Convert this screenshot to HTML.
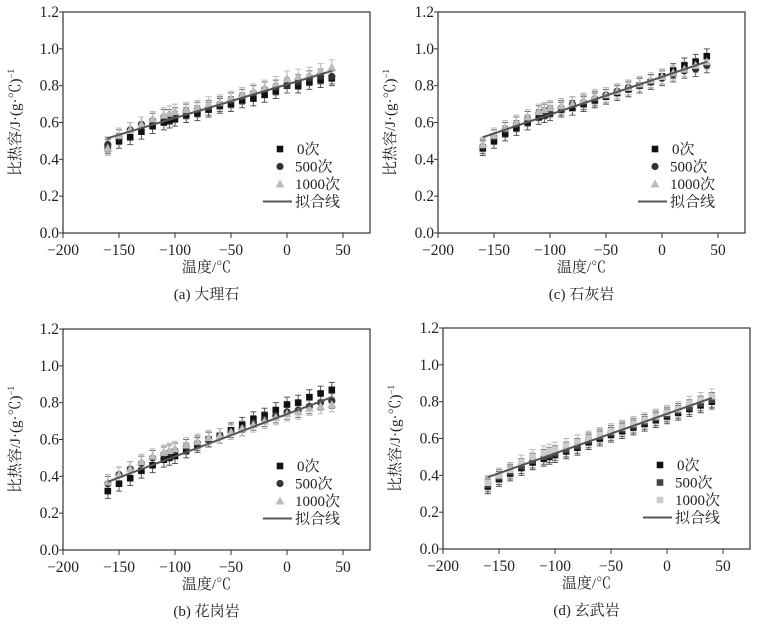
<!DOCTYPE html>
<html><head><meta charset="utf-8">
<style>
html,body{margin:0;padding:0;background:#fff;}
svg text{font-family:"Liberation Serif","Noto Serif CJK SC","Noto Sans CJK SC",serif;fill:#222;}
</style></head>
<body>
<svg id="chart" width="765" height="634" viewBox="0 0 765 634" xmlns="http://www.w3.org/2000/svg"></svg>
<script>
const temps = [-160,-150,-140,-130,-120,-110,-105,-100,-90,-80,-70,-60,-50,-40,-30,-20,-10,0,10,20,30,40];
const xTicks = [-200,-150,-100,-50,0,50];
const yTicks = [0.0,0.2,0.4,0.6,0.8,1.0,1.2];
const seriesNames = ["0次","500次","1000次"];

const a0   = [.47,.50,.52,.55,.58,.60,.61,.62,.64,.65,.67,.69,.70,.72,.73,.75,.77,.80,.80,.82,.83,.84];
const a500 = [.48,.52,.56,.59,.61,.63,.63,.64,.66,.67,.68,.70,.72,.74,.76,.78,.79,.80,.82,.84,.85,.85];
const a1000= [.46,.53,.56,.59,.62,.64,.65,.66,.67,.68,.70,.71,.73,.75,.77,.79,.81,.84,.85,.86,.88,.90];
const aFit = [.515,.88];

const c0   = [.46,.50,.54,.57,.60,.63,.64,.65,.67,.68,.70,.72,.74,.76,.78,.80,.82,.85,.88,.91,.93,.96];
const c500 = [.47,.52,.56,.59,.62,.65,.66,.67,.68,.70,.71,.73,.75,.77,.79,.80,.82,.84,.86,.88,.89,.91];
const c1000= [.48,.53,.57,.60,.63,.66,.67,.68,.69,.70,.72,.74,.75,.77,.79,.81,.83,.85,.87,.89,.91,.93];
const cFit = [.52,.93];

const b0   = [.32,.36,.39,.43,.46,.49,.50,.51,.54,.57,.60,.62,.65,.68,.71,.73,.76,.79,.80,.83,.85,.87];
const b500 = [.36,.41,.44,.47,.50,.52,.53,.54,.56,.58,.60,.62,.64,.66,.69,.71,.73,.75,.76,.78,.80,.81];
const b1000= [.37,.41,.44,.48,.51,.53,.54,.55,.57,.59,.61,.62,.64,.66,.68,.70,.72,.74,.75,.77,.78,.79];
const bFit = [.37,.83];

const d0   = [.34,.38,.41,.44,.47,.49,.50,.51,.53,.55,.58,.60,.62,.64,.66,.68,.70,.72,.74,.76,.78,.80];
const d500 = [.35,.39,.42,.45,.48,.50,.51,.52,.54,.56,.59,.61,.63,.65,.67,.69,.71,.73,.75,.77,.79,.81];
const d1000= [.36,.40,.43,.47,.50,.52,.53,.54,.56,.58,.60,.62,.64,.66,.68,.70,.72,.74,.76,.79,.81,.83];
const dFit = [.39,.82];

const svg = document.getElementById('chart');
const NS = 'http://www.w3.org/2000/svg';
function mk(tag, attrs, parent){
  const e = document.createElementNS(NS, tag);
  for (const k in attrs) e.setAttribute(k, attrs[k]);
  (parent||svg).appendChild(e);
  return e;
}

function panel(key, ox, oy, title, s0, s500, s1000, fit, styles){
  const g = mk('g', {});
  
  
  const L = ox, R = ox + 307, T = oy + 12, B = oy + 233;
  const xs = v => L + (v + 200) * 280 / 250;
  const ys = v => B - v * (B - T) / 1.2;
  const frame = mk('rect', {x:L, y:T, width:R-L, height:B-T, fill:'none', stroke:'#333', 'stroke-width':1.2}, g);
  
  
  xTicks.forEach(t => {
    const x = xs(t);
    mk('line', {x1:x, x2:x, y1:B, y2:B+5, stroke:'#333'}, g);
    const tx = mk('text', {x:x, y:B+22, 'text-anchor':'middle', 'font-size':15.5}, g);
    tx.textContent = t < 0 ? '\u2212' + Math.abs(t) : String(t);
    
    
  });
  yTicks.forEach(t => {
    const y = ys(t);
    mk('line', {x1:L-4, x2:L, y1:y, y2:y, stroke:'#333'}, g);
    const tx = mk('text', {x:L-4, y:y+5, 'text-anchor':'end', 'font-size':15.5}, g);
    tx.textContent = t.toFixed(1);
    
    
  });
  const xt = mk('text', {x:(L+R)/2 - 10, y:B+39, 'text-anchor':'middle', 'font-size':15}, g);
  xt.textContent = '温度/℃';
  
  
  const yt = mk('text', {x:0, y:0, 'text-anchor':'middle', 'font-size':15, transform:`translate(${L-43},${(T+B)/2}) rotate(-90)`}, g);
  yt.innerHTML = '比热容/J·(g·℃)<tspan dy="-6" font-size="9">−1</tspan>';
  
  
  const pt = mk('text', {x:(L+R)/2 - 10, y:B+66, 'text-anchor':'middle', 'font-size':15}, g);
  pt.textContent = title;
  
  

  const all = [s0, s500, s1000];
  all.forEach((arr, si) => {
    const st = styles[si];
    arr.forEach((v, i) => {
      const x = xs(temps[i]);
      const eb = mk('path', {d:`M${x},${ys(v-0.04)}V${ys(v+0.04)}M${x-3},${ys(v-0.04)}h6M${x-3},${ys(v+0.04)}h6`, stroke:st.err, 'stroke-width':1, fill:'none'}, g);
      
      
    });
  });
  all.forEach((arr, si) => {
    const st = styles[si];
    arr.forEach((v, i) => {
      const x = xs(temps[i]), y = ys(v);
      const m = marker(g, st, x, y);
      
      
    });
  });
  const fl = mk('line', {x1:xs(temps[0]), y1:ys(fit[0]), x2:xs(temps[temps.length-1]), y2:ys(fit[1]), stroke:'#555', 'stroke-width':2}, g);
  
  

  const lx = L + 217, ly = T + 137;
  const labels = ['0次','500次','1000次'];
  labels.forEach((lab, i) => {
    const y = ly + i * 17.5;
    const m = marker(g, styles[i], lx, y);
    
    
    const t = mk('text', {x: i===0 ? lx+17 : lx+15, y:y+5, 'font-size':15}, g);
    t.textContent = lab;
    
    
  });
  const y4 = ly + 3*17.5;
  mk('line', {x1:lx-17, x2:lx+12, y1:y4, y2:y4, stroke:'#555', 'stroke-width':2}, g);
  const t4 = mk('text', {x:lx+15, y:y4+5, 'font-size':15}, g);
  t4.textContent = '拟合线';
  
  
}

function marker(g, st, x, y){
  if (st.shape === 'square') return mk('rect', {x:x-3.3, y:y-3.3, width:6.6, height:6.6, fill:st.fill}, g);
  if (st.shape === 'circle') return mk('circle', {cx:x, cy:y, r:3.6, fill:st.fill}, g);
  return mk('path', {d:`M${x},${y-4.5}L${x+4.5},${y+3.5}L${x-4.5},${y+3.5}Z`, fill:st.fill}, g);
}

const stA = [{shape:'square',fill:'#111',err:'#555'},{shape:'circle',fill:'#333',err:'#666'},{shape:'triangle',fill:'#bbb',err:'#bbb'}];
const stD = [{shape:'square',fill:'#111',err:'#555'},{shape:'square',fill:'#444',err:'#666'},{shape:'square',fill:'#ccc',err:'#bbb'}];

panel('a', 63, 0, '(a) 大理石', a0, a500, a1000, aFit, stA);
panel('c', 438, 0, '(c) 石灰岩', c0, c500, c1000, cFit, stA);
panel('b', 63, 317, '(b) 花岗岩', b0, b500, b1000, bFit, stA);
panel('d', 443, 316, '(d) 玄武岩', d0, d500, d1000, dFit, stD);
</script>
</body></html>
